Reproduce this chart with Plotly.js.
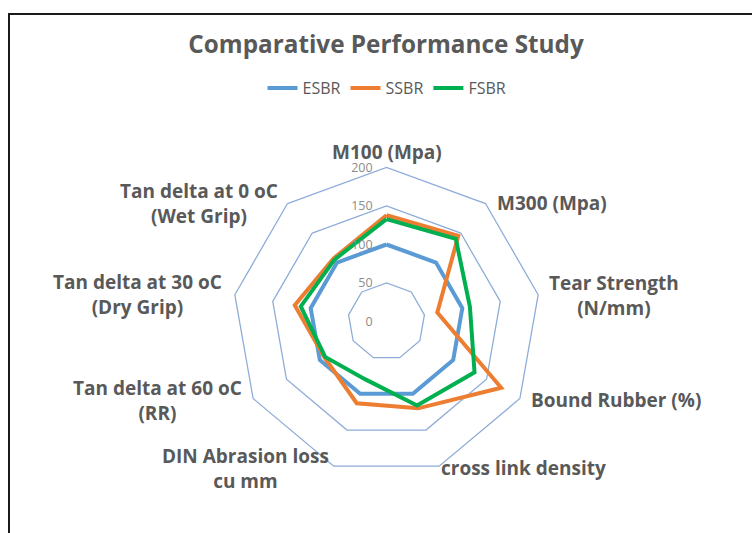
<!DOCTYPE html>
<html>
<head>
<meta charset="utf-8">
<script src="https://cdn.plot.ly/plotly-3.0.1.min.js"></script>
<style>
  html, body { margin: 0; padding: 0; background: #ffffff; }
  #chart { width: 752px; height: 533px; }
</style>
</head>
<body>
<div id="chart"></div>
<script>
// Properties compared (clockwise from the top of the radar)
const properties = [
  'M100 (Mpa)',
  'M300 (Mpa)',
  'Tear Strength (N/mm)',
  'Bound Rubber (%)',
  'cross link density',
  'DIN Abrasion loss cu mm',
  'Tan delta at 60 oC (RR)',
  'Tan delta at 30 oC (Dry Grip)',
  'Tan delta at 0 oC (Wet Grip)'
];

// Category labels as printed around the radar (with line breaks)
const propertyLabels = [
  'M100 (Mpa)',
  'M300 (Mpa)',
  'Tear Strength<br>(N/mm)',
  'Bound Rubber (%)',
  'cross link density',
  'DIN Abrasion loss<br>cu mm',
  'Tan delta at 60 oC<br>(RR)',
  'Tan delta at 30 oC<br>(Dry Grip)',
  'Tan delta at 0 oC<br>(Wet Grip)'
];

// Indexed values (ESBR = 100)
const esbr = [100, 100, 100, 100, 100, 100, 100, 100, 100];
const ssbr = [138, 145, 67, 172, 120, 113, 93, 121, 107];
const fsbr = [133, 140, 110, 132, 116, 80, 92, 113, 105];

const seriesNames = ['ESBR', 'SSBR', 'FSBR'];
const radialTicks = [0, 50, 100, 150, 200];

// ---- styling / placement ----
const seriesColors = ['#5B9BD5', '#ED7D31', '#00B050'];
const textColor = '#595959';
const gridColor = '#8EACD8';
const baseFont = '"Open Sans", sans-serif';
const radialMax = 200;

// where each category label sits (degrees clockwise from top, radial units)
const labelTheta = [0, 54.4, 83.4, 108.9, 136.9, 224, 251, 276.1, 302.3];
const labelRadius = [220, 264, 297.5, 314.8, 260.8, 264.5, 315.2, 324.6, 287.8];

// close each polygon by repeating its first vertex
function closed(arr) { return arr.concat([arr[0]]); }

const traces = [esbr, ssbr, fsbr].map((vals, i) => ({
  type: 'scatterpolar',
  mode: 'lines',
  name: seriesNames[i],
  r: closed(vals),
  theta: closed(properties),
  line: { color: seriesColors[i], width: 4 },
  hoverinfo: 'name+r+theta'
}));

const W = 752, H = 533;
const cx = 386.5, cy = 321.5, R = 154;   // polar centre and outer radius (px)
const polarDomain = {
  x: [(cx - R) / W, (cx + R) / W],
  y: [(H - cy - R) / H, (H - cy + R) / H]
};

// category names placed around the radar, converted from polar placement
const labelAnnotations = propertyLabels.map((txt, i) => {
  const a = labelTheta[i] * Math.PI / 180;
  const rp = labelRadius[i] / radialMax * R;
  return {
    text: txt,
    xref: 'paper', yref: 'paper',
    x: (cx + rp * Math.sin(a)) / W,
    y: 1 - (cy - rp * Math.cos(a)) / H,
    xanchor: 'center', yanchor: 'middle',
    align: 'center',
    showarrow: false,
    font: { family: baseFont, size: 19, weight: 700, color: textColor }
  };
});

const layout = {
  width: W,
  height: H,
  margin: { l: 0, r: 0, t: 0, b: 0 },
  paper_bgcolor: '#ffffff',
  plot_bgcolor: '#ffffff',
  font: { family: baseFont, color: textColor },
  title: {
    text: 'Comparative Performance Study',
    font: { family: baseFont, size: 24.3, weight: 700, color: textColor },
    x: 386 / W, xanchor: 'center', xref: 'paper',
    y: 1 - 44 / H, yanchor: 'middle', yref: 'container'
  },
  showlegend: true,
  legend: {
    orientation: 'h',
    x: 387 / W, xanchor: 'center',
    y: 1 - 88 / H, yanchor: 'middle',
    font: { family: baseFont, size: 16, color: textColor },
    bgcolor: 'rgba(0,0,0,0)',
    itemwidth: 30
  },
  polar: {
    domain: polarDomain,
    bgcolor: '#ffffff',
    gridshape: 'linear',
    angularaxis: {
      type: 'category',
      categoryarray: properties,
      direction: 'clockwise',
      rotation: 90,
      showgrid: false,
      showline: true,
      linecolor: gridColor,
      linewidth: 1.3,
      ticks: '',
      showticklabels: false
    },
    radialaxis: {
      range: [0, radialMax],
      tickvals: radialTicks,
      ticktext: radialTicks.map(String),
      angle: 90,
      tickangle: 90,
      side: 'counterclockwise',
      showline: false,
      showgrid: true,
      gridcolor: gridColor,
      gridwidth: 1.3,
      ticks: 'outside',
      ticklen: 9,
      tickcolor: 'rgba(0,0,0,0)',
      tickfont: { family: baseFont, size: 12.5, color: '#8C8C8C' }
    }
  },
  annotations: labelAnnotations,
  shapes: [{
    // chart frame (top and left edges visible)
    type: 'rect', xref: 'paper', yref: 'paper',
    x0: 9 / W, x1: 1.2, y0: -0.2, y1: 1 - 14 / H,
    line: { color: '#1a1a1a', width: 2 },
    fillcolor: 'rgba(0,0,0,0)'
  }]
};

Plotly.newPlot('chart', traces, layout, { displayModeBar: false, staticPlot: true });
</script>
</body>
</html>
